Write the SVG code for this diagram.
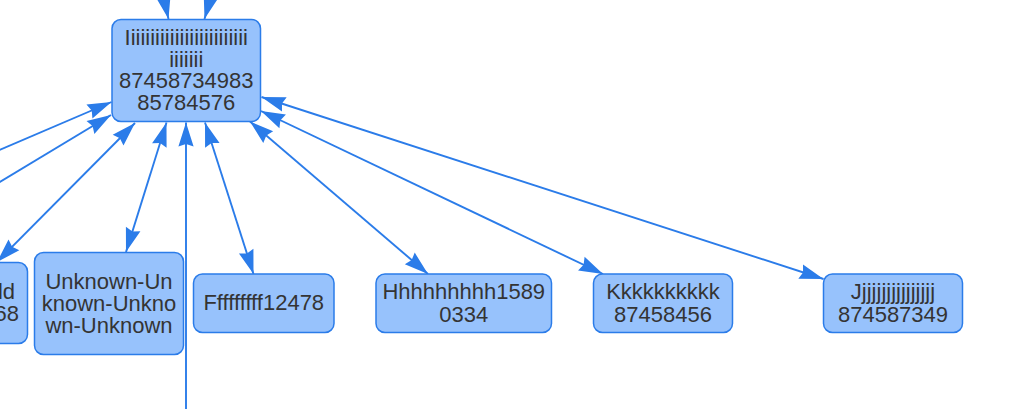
<svg xmlns="http://www.w3.org/2000/svg" width="1029" height="409" viewBox="0 0 1029 409">
<defs>
<style>
.node rect{fill:#97c2fc;stroke:#2b7ce9;stroke-width:1.5}
.node text{font-family:"Liberation Sans",Arial,sans-serif;font-size:22px;fill:#343434;text-anchor:middle}
.edge{fill:none;stroke:#2b7ce9;stroke-width:1.9}
</style>
<marker id="ah" markerUnits="userSpaceOnUse" viewBox="-26 -9 28 18" refX="0" refY="0" markerWidth="28" markerHeight="18" orient="auto-start-reverse">
<path d="M0,0 L-24,-7.6 L-21.5,0 L-24,7.6 Z" fill="#2b7ce9"/>
</marker>
</defs>
<rect width="1029" height="409" fill="#ffffff"/>
<g id="connectors">
<line class="edge" x1="153" y1="-50" x2="168.5" y2="19" marker-end="url(#ah)"/>
<line class="edge" x1="224" y1="-50" x2="204.5" y2="19" marker-end="url(#ah)"/>
<line class="edge" x1="-10" y1="154" x2="111.5" y2="102" marker-end="url(#ah)"/>
<line class="edge" x1="-10" y1="188" x2="111" y2="115" marker-end="url(#ah)"/>
<line class="edge" x1="135" y1="123" x2="-3" y2="262" marker-start="url(#ah)" marker-end="url(#ah)"/>
<line class="edge" x1="166.5" y1="122.5" x2="126" y2="252" marker-start="url(#ah)" marker-end="url(#ah)"/>
<line class="edge" x1="186" y1="420" x2="186" y2="122.5" marker-end="url(#ah)"/>
<line class="edge" x1="205" y1="122.5" x2="253.5" y2="274" marker-start="url(#ah)" marker-end="url(#ah)"/>
<line class="edge" x1="250" y1="121.5" x2="428" y2="274" marker-start="url(#ah)" marker-end="url(#ah)"/>
<line class="edge" x1="261" y1="111" x2="603" y2="274" marker-start="url(#ah)" marker-end="url(#ah)"/>
<line class="edge" x1="261.5" y1="97" x2="823.5" y2="279" marker-start="url(#ah)" marker-end="url(#ah)"/>
</g>
<g id="node-top" class="node">
<rect x="112" y="19.5" width="148.5" height="102" rx="9"/>
<text><tspan x="186.25" y="45">Iiiiiiiiiiiiiiiiiiiiiiiii</tspan><tspan x="186.25" y="66.7">iiiiiii</tspan><tspan x="186.25" y="88.3">87458734983</tspan><tspan x="186.25" y="110">85784576</tspan></text>
</g>
<g id="node-left" class="node">
<rect x="-80" y="262.5" width="107.5" height="81" rx="9"/>
<text style="text-anchor:end"><tspan x="15" y="299.3">ld</tspan><tspan x="19" y="321">68</tspan></text>
</g>
<g id="node-unknown" class="node">
<rect x="34.5" y="252.5" width="149" height="102" rx="9"/>
<text><tspan x="109" y="289.3">Unknown-Un</tspan><tspan x="109" y="311">known-Unkno</tspan><tspan x="109" y="332.7">wn-Unknown</tspan></text>
</g>
<g id="node-f" class="node">
<rect x="193.5" y="274" width="140.5" height="58.5" rx="9"/>
<text x="263.75" y="310">Fffffffff12478</text>
</g>
<g id="node-h" class="node">
<rect x="376" y="274" width="175.5" height="58.5" rx="9"/>
<text><tspan x="463.75" y="299.3">Hhhhhhhhh1589</tspan><tspan x="463.75" y="321.7">0334</tspan></text>
</g>
<g id="node-k" class="node">
<rect x="593.5" y="274" width="139" height="58.5" rx="9"/>
<text><tspan x="663" y="299.3">Kkkkkkkkkk</tspan><tspan x="663" y="321.7">87458456</tspan></text>
</g>
<g id="node-j" class="node">
<rect x="823.5" y="274" width="139" height="58.5" rx="9"/>
<text><tspan x="893" y="299.3">Jjjjjjjjjjjjjjjj</tspan><tspan x="893" y="321.7">874587349</tspan></text>
</g>
</svg>
